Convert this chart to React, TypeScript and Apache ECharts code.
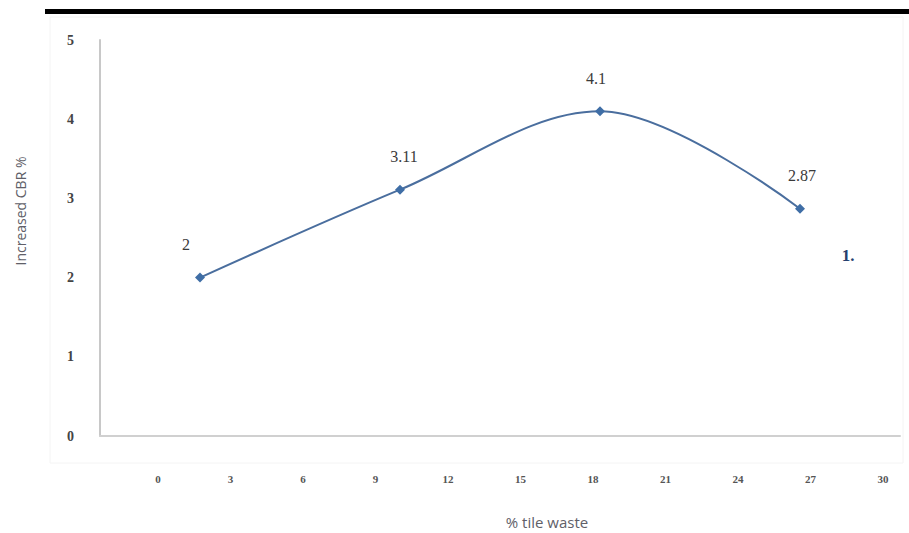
import React, { useEffect, useRef } from "react";
import * as echarts from "echarts";

const categories = ["A", "B", "C", "D"];
const cbrValues = [2, 3.11, 4.1, 2.87];
const yTicks = [0, 1, 2, 3, 4, 5];
const xTickMin = 0;
const xTickMax = 30;
const xTickStep = 3;
const labelOffsets = [[-14, 0], [4, 0], [-4, 0], [2, 0]];

export default function App() {
  const ref = useRef<HTMLDivElement>(null);
  useEffect(() => {
    const chart = echarts.init(ref.current!, null, { renderer: "svg" });
    const serif = "'Liberation Serif', 'DejaVu Serif', serif";
    const sans = "'Open Sans', 'Noto Sans', sans-serif";
    chart.setOption({
      animation: false,
      backgroundColor: "#ffffff",
      grid: [
        { left: 100, top: 40, width: 800, height: 396 },
        { left: 158, top: 470, width: 725, height: 1 },
      ],
      xAxis: [
        {
          gridIndex: 0,
          type: "category",
          data: categories,
          boundaryGap: true,
          axisLine: { show: true, lineStyle: { color: "#d0d0d0", width: 2 } },
          axisTick: { show: false },
          axisLabel: { show: false },
        },
        {
          gridIndex: 1,
          type: "value",
          min: xTickMin,
          max: xTickMax,
          interval: xTickStep,
          axisLine: { show: false },
          axisTick: { show: false },
          splitLine: { show: false },
          axisLabel: { margin: 2, fontSize: 11, fontFamily: serif, fontWeight: "bold", color: "#555" },
        },
      ],
      yAxis: [
        {
          gridIndex: 0,
          type: "value",
          min: yTicks[0],
          max: yTicks[yTicks.length - 1],
          interval: 1,
          axisLine: { show: true, lineStyle: { color: "#c8c8c8", width: 2 } },
          axisTick: { show: false },
          splitLine: { show: false },
          axisLabel: { margin: 26, fontSize: 14, fontFamily: serif, fontWeight: "bold", color: "#444" },
        },
        {
          gridIndex: 1,
          type: "value",
          show: false,
        },
      ],
      series: [
        {
          type: "line",
          xAxisIndex: 0,
          yAxisIndex: 0,
          data: cbrValues.map((v, i) => ({
            value: v,
            label: { offset: labelOffsets[i] },
          })),
          smooth: 0.35,
          symbol: "diamond",
          symbolSize: 10,
          lineStyle: { color: "#4a6e9e", width: 2 },
          itemStyle: { color: "#3f6ea6" },
          label: {
            show: true,
            position: "top",
            distance: 20,
            fontSize: 16,
            fontFamily: serif,
            color: "#3a3a3a",
          },
        },
      ],
      graphic: [
        {
          type: "rect",
          shape: { x: 50, y: 17, width: 853, height: 446 },
          style: { fill: "none", stroke: "#f4f4f4", lineWidth: 1 },
          silent: true,
          z: -1,
        },
        {
          type: "rect",
          shape: { x: 45, y: 9, width: 864, height: 5 },
          style: { fill: "#000" },
        },
        {
          type: "text",
          x: 20,
          y: 211,
          rotation: Math.PI / 2,
          style: {
            text: "Increased CBR %",
            fontSize: 14,
            fontFamily: sans,
            fill: "#606068",
            align: "center",
            verticalAlign: "middle",
          },
        },
        {
          type: "text",
          x: 547,
          y: 522,
          style: {
            text: "% tile waste",
            fontSize: 15,
            fontFamily: sans,
            fill: "#606068",
            align: "center",
            verticalAlign: "middle",
          },
        },
        {
          type: "text",
          x: 848,
          y: 255,
          style: {
            text: "1.",
            fontSize: 17,
            fontFamily: serif,
            fontWeight: "bold",
            fill: "#25406e",
            align: "center",
            verticalAlign: "middle",
          },
        },
      ],
    });
    return () => chart.dispose();
  }, []);
  return <div ref={ref} style={{ width: 909, height: 533, position: "absolute", left: 0, top: 0 }} />;
}
